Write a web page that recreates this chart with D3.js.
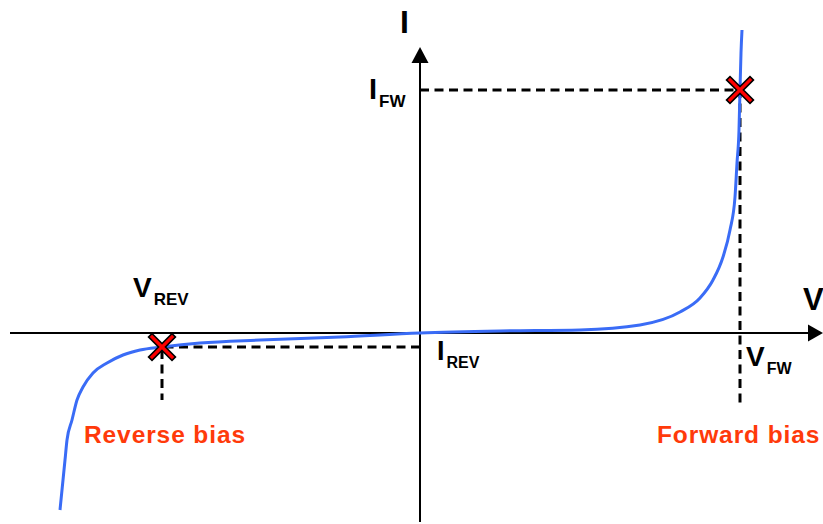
<!DOCTYPE html>
<html>
<head>
<style type="text/css">
body { margin: 0; background: #fff; }
.axis { stroke: black; stroke-width: 2; fill: none; }
.dash { stroke: black; stroke-width: 3; stroke-dasharray: 9,5.5; fill: none; }
.curve { stroke: #3a6cf6; stroke-width: 3; fill: none; }
.lbl { font-family: "Liberation Sans", Arial, sans-serif; font-weight: bold; fill: black; }
.bias { font-family: "Liberation Sans", Arial, sans-serif; font-weight: bold; fill: #ff3a0a; font-size: 24.5px; letter-spacing: 0.9px; }
</style>
<script src="https://d3js.org/d3.v7.min.js"></script>
</head>
<body>
<script type="text/javascript">
var width  = 823;
var height = 524;

// diode curve, arbitrary units (V, I)
var curveV = [-3.6, -3.57, -3.55, -3.53, -3.48, -3.43, -3.37, -3.27, -3.13, -2.97, -2.8, -2.58, -2.2, -1.6, -0.8, 0, 0.8, 1.6, 2.2, 2.6, 2.8, 2.93, 3.03, 3.10, 3.15, 3.17, 3.19, 3.20, 3.21, 3.22];
var curveI = [-1.77, -1.47, -1.27, -1.07, -0.87, -0.67, -0.54, -0.40, -0.30, -0.22, -0.17, -0.14, -0.10, -0.07, -0.04, 0, 0.02, 0.03, 0.08, 0.21, 0.35, 0.53, 0.76, 1.03, 1.36, 1.70, 2.03, 2.43, 2.80, 3.03];

// operating points
var pointV = [3.2, -2.58];
var pointI = [2.43, -0.14];

var x = d3.scaleLinear().domain([-4.1, 4.03]).range([10, 823]);
var y = d3.scaleLinear().domain([-1.91, 3.33]).range([524, 0]);

var svg = d3.select("body").append("svg").attr("width", width).attr("height", height);

// dashed guides
svg.append("path").attr("class", "dash")
	.attr("d", "M" + x(0) + "," + y(pointI[0]) + "H" + x(pointV[0]) + "V" + (y(0) + 70));
svg.append("path").attr("class", "dash")
	.attr("d", "M" + x(0) + "," + y(pointI[1]) + "H" + x(pointV[1]) + "V" + (y(0) + 67));

// axes
svg.append("line").attr("class", "axis")
	.attr("x1", x(-4.1)).attr("x2", x(3.92)).attr("y1", y(0)).attr("y2", y(0));
svg.append("line").attr("class", "axis")
	.attr("x1", x(0)).attr("x2", x(0)).attr("y1", y(-1.89)).attr("y2", y(2.72));
svg.append("path").attr("fill", "black")
	.attr("d", "M" + x(4.03) + "," + y(0) + "l-15,-8.5v17z");
svg.append("path").attr("fill", "black")
	.attr("d", "M" + x(0) + "," + (y(2.86)) + "l-8.5,16h17z");

// curve
var line = d3.line()
	.x(function(d){ return x(d[0]); })
	.y(function(d){ return y(d[1]); })
	.curve(d3.curveMonotoneX);
svg.append("path").attr("class", "curve")
	.datum(d3.zip(curveV, curveI))
	.attr("d", line);

// cross markers
pointV.forEach(function(v, i) {
	var cx = x(v), cy = y(pointI[i]), r = 10;
	var g = svg.append("g");
	[["black", 6.5], ["red", 3.2]].forEach(function(s) {
		g.append("path")
			.attr("d", "M" + (cx - r) + "," + (cy - r) + "L" + (cx + r) + "," + (cy + r) +
				"M" + (cx - r) + "," + (cy + r) + "L" + (cx + r) + "," + (cy - r))
			.attr("stroke", s[0]).attr("stroke-width", s[1]).attr("stroke-linecap", "square").attr("fill", "none");
	});
});

// labels
function label(px, py, main, sub, size, subSize) {
	var t = svg.append("text").attr("class", "lbl").attr("x", px).attr("y", py);
	t.append("tspan").attr("font-size", size).text(main);
	if (sub) t.append("tspan").attr("font-size", subSize).attr("dx", 2).attr("dy", 8).text(sub);
}
label(400, 33, "I", null, 32);
label(803, 310, "V", null, 31);
label(369, 99, "I", "FW", 29, 17);
label(133, 297, "V", "REV", 28, 17);
label(437, 360, "I", "REV", 27, 16);
label(746, 366, "V", "FW", 28, 16);

svg.append("text").attr("class", "bias").attr("x", 84).attr("y", 443).text("Reverse bias");
svg.append("text").attr("class", "bias").attr("x", 657).attr("y", 443).text("Forward bias");
</script>
</body>
</html>
